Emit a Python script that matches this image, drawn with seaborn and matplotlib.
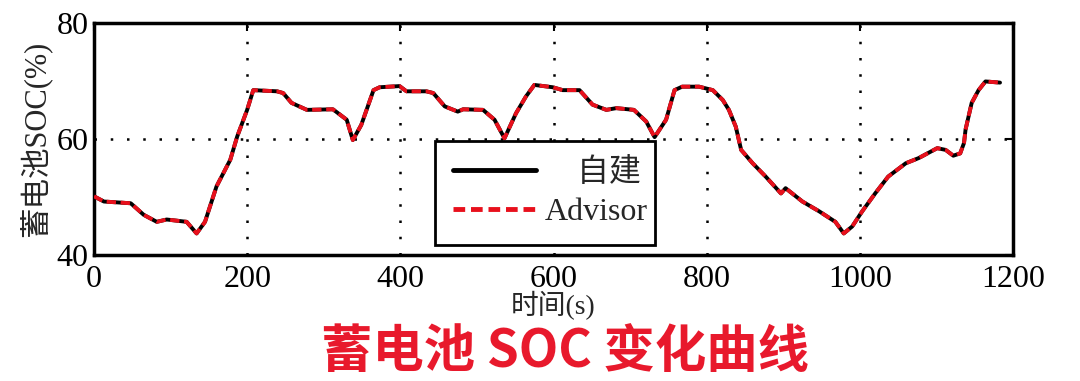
import matplotlib
matplotlib.use("Agg")
import matplotlib.pyplot as plt
import seaborn as sns
import pandas as pd

# ---- data ----
time_s = [0, 13, 48, 65, 82, 95, 121, 134, 145, 160, 178, 187, 200, 208, 239, 247, 258, 278,
          312, 330, 338, 349, 365, 373, 399, 408, 434, 443, 458, 475, 482, 508, 523, 536, 551,
          564, 575, 599, 612, 634, 651, 669, 682, 705, 721, 732, 747, 758, 768, 790, 808, 821,
          829, 838, 845, 860, 877, 897, 903, 925, 947, 968, 979, 990, 1003, 1020, 1037, 1060,
          1077, 1101, 1112, 1122, 1131, 1136, 1138, 1146, 1155, 1164, 1183]
soc_self = [50.1, 49.2, 48.9, 46.9, 45.7, 46.1, 45.7, 43.7, 45.7, 51.8, 56.4, 60.4, 65.0, 68.4,
            68.2, 67.9, 66.2, 65.0, 65.1, 63.3, 59.8, 62.4, 68.4, 68.9, 69.1, 68.2, 68.2, 67.9,
            65.6, 64.7, 65.1, 65.0, 63.3, 60.1, 64.4, 67.3, 69.3, 68.9, 68.4, 68.4, 65.9, 65.0,
            65.3, 65.0, 63.0, 60.3, 63.3, 68.4, 69.0, 69.0, 68.4, 66.7, 65.0, 62.1, 58.1, 55.8,
            53.5, 50.6, 51.5, 49.2, 47.5, 45.7, 43.7, 44.9, 47.5, 50.6, 53.5, 55.8, 56.7, 58.4,
            58.1, 57.1, 57.5, 59.3, 61.6, 66.2, 68.4, 69.9, 69.7]
soc_advisor = [50.1, 49.2, 48.9, 46.9, 45.7, 46.1, 45.7, 43.7, 45.7, 51.8, 56.4, 60.4, 65.0, 68.4,
               68.2, 67.9, 66.2, 65.0, 65.1, 63.3, 59.8, 62.4, 68.4, 68.9, 69.1, 68.2, 68.2, 67.9,
               65.6, 64.7, 65.1, 65.0, 63.3, 60.1, 64.4, 67.3, 69.3, 68.9, 68.4, 68.4, 65.9, 65.0,
               65.3, 65.0, 63.0, 60.3, 63.3, 68.4, 69.0, 69.0, 68.4, 66.7, 65.0, 62.1, 58.1, 55.8,
               53.5, 50.6, 51.5, 49.2, 47.5, 45.7, 43.7, 44.9, 47.5, 50.6, 53.5, 55.8, 56.7, 58.4,
               58.1, 57.1, 57.5, 59.3, 61.6, 66.2, 68.4, 69.9, 69.7]
series_labels = ["自建", "Advisor"]
x_ticks = [0, 200, 400, 600, 800, 1000, 1200]
y_ticks = [40, 60, 80]
x_label = "时间(s)"
y_label = "蓄电池SOC(%)"
title = "蓄电池 SOC 变化曲线"

sns.set_style("white")
serif = ["Liberation Serif", "Noto Sans CJK SC", "DejaVu Sans"]
plt.rcParams["font.family"] = serif

fig = plt.figure(figsize=(10.8, 3.81), dpi=100)
ax = fig.add_axes([0.087, 0.331, 0.851, 0.609])

df_self = pd.DataFrame({"t": time_s, "soc": soc_self})
df_adv = pd.DataFrame({"t": time_s, "soc": soc_advisor})

sns.lineplot(data=df_self, x="t", y="soc", ax=ax, color="black", lw=2.8,
             sort=False, label=series_labels[0], zorder=3)
sns.lineplot(data=df_adv, x="t", y="soc", ax=ax, color="#e8101c", lw=2.8,
             sort=False, label=series_labels[1], zorder=4, dashes=False)
ax.lines[1].set_dashes((2.4, 1.2))

ax.set_xlim(0, 1200)
ax.set_ylim(40, 80)
ax.set_xticks(x_ticks)
ax.set_yticks(y_ticks)
ax.set_xticklabels([str(v) for v in x_ticks])
ax.set_yticklabels([str(v) for v in y_ticks])

ax.grid(True, color="black", linestyle=(0, (1, 5.5)), linewidth=1.8)
for s in ax.spines.values():
    s.set_visible(True)
    s.set_color("black")
    s.set_linewidth(2.5)
ax.tick_params(direction="in", length=6, width=1.5, top=True, right=True,
               labelsize=23, pad=4, colors="black")
ax.tick_params(axis="x", pad=7)

ax.set_xlabel(x_label, fontsize=20, labelpad=-2, family=serif)
ax.set_ylabel(y_label, fontsize=22, labelpad=4, family=serif)

leg = ax.legend(loc="lower left", bbox_to_anchor=(0.371, 0.043, 0.239, 0.444),
                mode="expand", fontsize=23, handlelength=2.6, handletextpad=0.3,
                borderpad=0.55, labelspacing=0.3, frameon=True, fancybox=False,
                framealpha=1, borderaxespad=0)
leg.get_frame().set_edgecolor("black")
leg.get_frame().set_linewidth(2.0)
leg.set_zorder(10)
for t in leg.get_texts():
    t.set_family(serif)
for h in leg.get_lines():
    h.set_linewidth(3.5)
leg_texts = leg.get_texts()
leg_texts[0].set_text("    " + series_labels[0])

fig.text(0.523, 0.078, title, ha="center", va="center", fontsize=37,
         color="#e8192c", fontweight="bold", family=["Noto Sans CJK SC", "DejaVu Sans"])

fig.savefig("out.png", dpi=100, facecolor="white")
